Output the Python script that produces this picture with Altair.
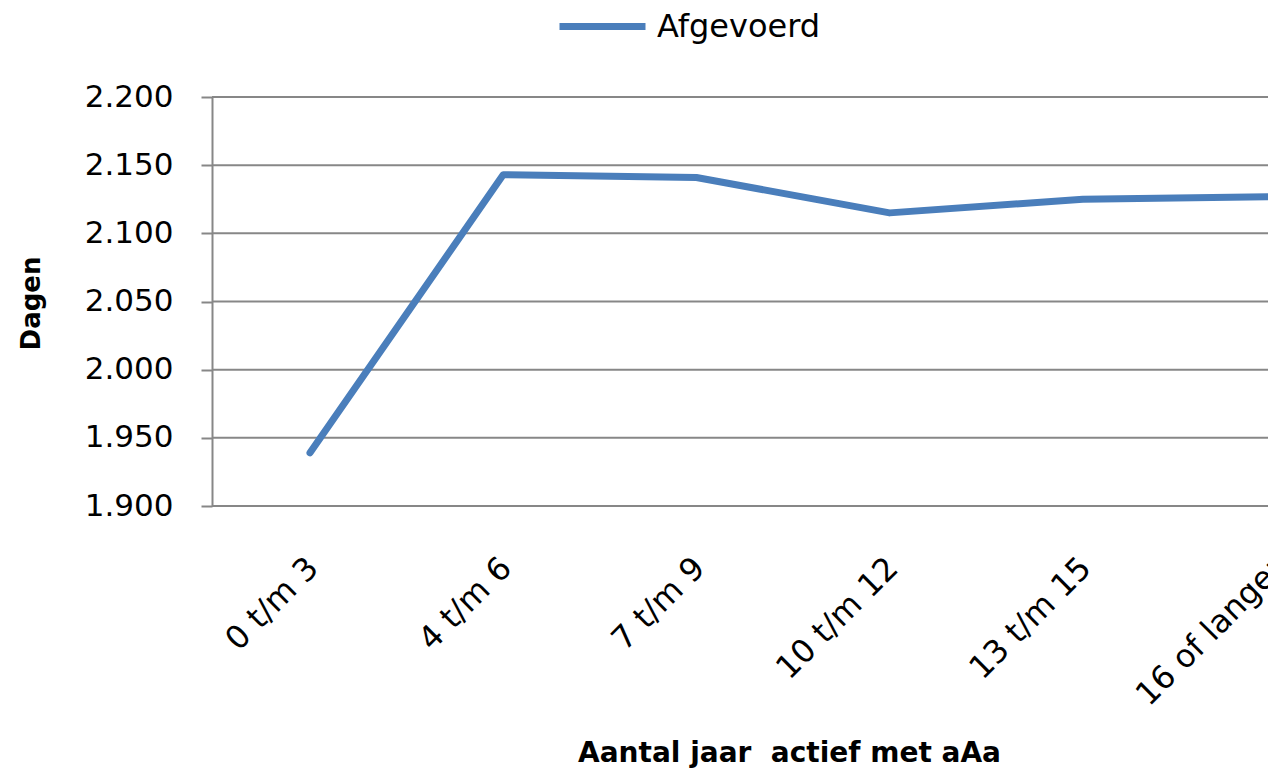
import altair as alt
import pandas as pd

categories = ["0 t/m 3", "4 t/m 6", "7 t/m 9", "10 t/m 12", "13 t/m 15", "16 of langer"]
afgevoerd = [1939, 2143, 2141, 2115, 2125, 2127]
series_name = "Afgevoerd"
y_ticks = [1900, 1950, 2000, 2050, 2100, 2150, 2200]

df = pd.DataFrame({"cat": categories, "val": afgevoerd, "serie": [series_name] * len(categories)})
grid_df = pd.DataFrame({"t": y_ticks})

FONT = "DejaVu Sans"
GRID = "#878787"
BLUE = "#4A7EBB"
W = 1056

y_scale = alt.Scale(domain=[1900, 2200], zero=False, nice=False)
y_axis = alt.Axis(
    title="Dagen",
    titleFont=FONT,
    titleFontSize=26,
    titleFontWeight="bold",
    titleColor="#000000",
    titleAngle=-90,
    titleX=-173,
    titleY=206,
    titleAlign="center",
    titleBaseline="alphabetic",
    values=y_ticks,
    labelExpr="replace(format(datum.value, ',.0f'), ',', '.')",
    labelFont=FONT,
    labelFontSize=31,
    labelColor="#000000",
    labelPadding=28,
    tickSize=11,
    tickColor=GRID,
    tickWidth=2,
    domainColor=GRID,
    domainWidth=2,
    grid=False,
)

grid = (
    alt.Chart(grid_df)
    .mark_rule(color=GRID, strokeWidth=2)
    .encode(
        y=alt.Y("t:Q", scale=y_scale, axis=y_axis, title="Dagen"),
        x=alt.value(0),
        x2=alt.value(W),
    )
)

line = (
    alt.Chart(df)
    .mark_line(strokeWidth=7, strokeCap="round", strokeJoin="round")
    .encode(
        x=alt.X(
            "cat:N",
            sort=categories,
            scale=alt.Scale(type="point", range=[98, 1064], padding=0),
            axis=alt.Axis(
                title="Aantal jaar\u00a0 actief met aAa",
                titleFont=FONT,
                titleFontSize=28,
                titleFontWeight="bold",
                titleColor="#000000",
                titleX=577,
                titleY=255,
                titleBaseline="alphabetic",
                titleAnchor="start",
                titleAlign="center",
                labelAngle=-45,
                labelFont=FONT,
                labelFontSize=32,
                labelColor="#000000",
                labelPadding=46,
                labelOffset=-8,
                labelLimit=500,
                labelOverlap=False,
                ticks=False,
                domain=False,
                grid=False,
            ),
        ),
        y=alt.Y("val:Q", scale=y_scale, axis=y_axis, title="Dagen"),
        color=alt.Color(
            "serie:N",
            scale=alt.Scale(domain=[series_name], range=[BLUE]),
            legend=alt.Legend(
                title=None,
                orient="none",
                legendX=344,
                legendY=-117,
                symbolType="stroke",
                symbolSize=7396,
                symbolStrokeWidth=7,
                labelFont=FONT,
                labelFontSize=32,
                labelColor="#000000",
                labelOffset=8,
                labelLimit=500,
                padding=0,
            ),
        ),
    )
)

chart = (
    alt.layer(grid, line)
    .properties(
        width=W,
        height=409,
        autosize=alt.AutoSizeParams(type="none"),
        padding={"left": 204, "top": 89, "right": 0, "bottom": 264},
    )
    .configure_view(stroke=None)
    .configure(background="white")
)

chart.save("out.html", embed_options={"renderer": "svg", "actions": False})
